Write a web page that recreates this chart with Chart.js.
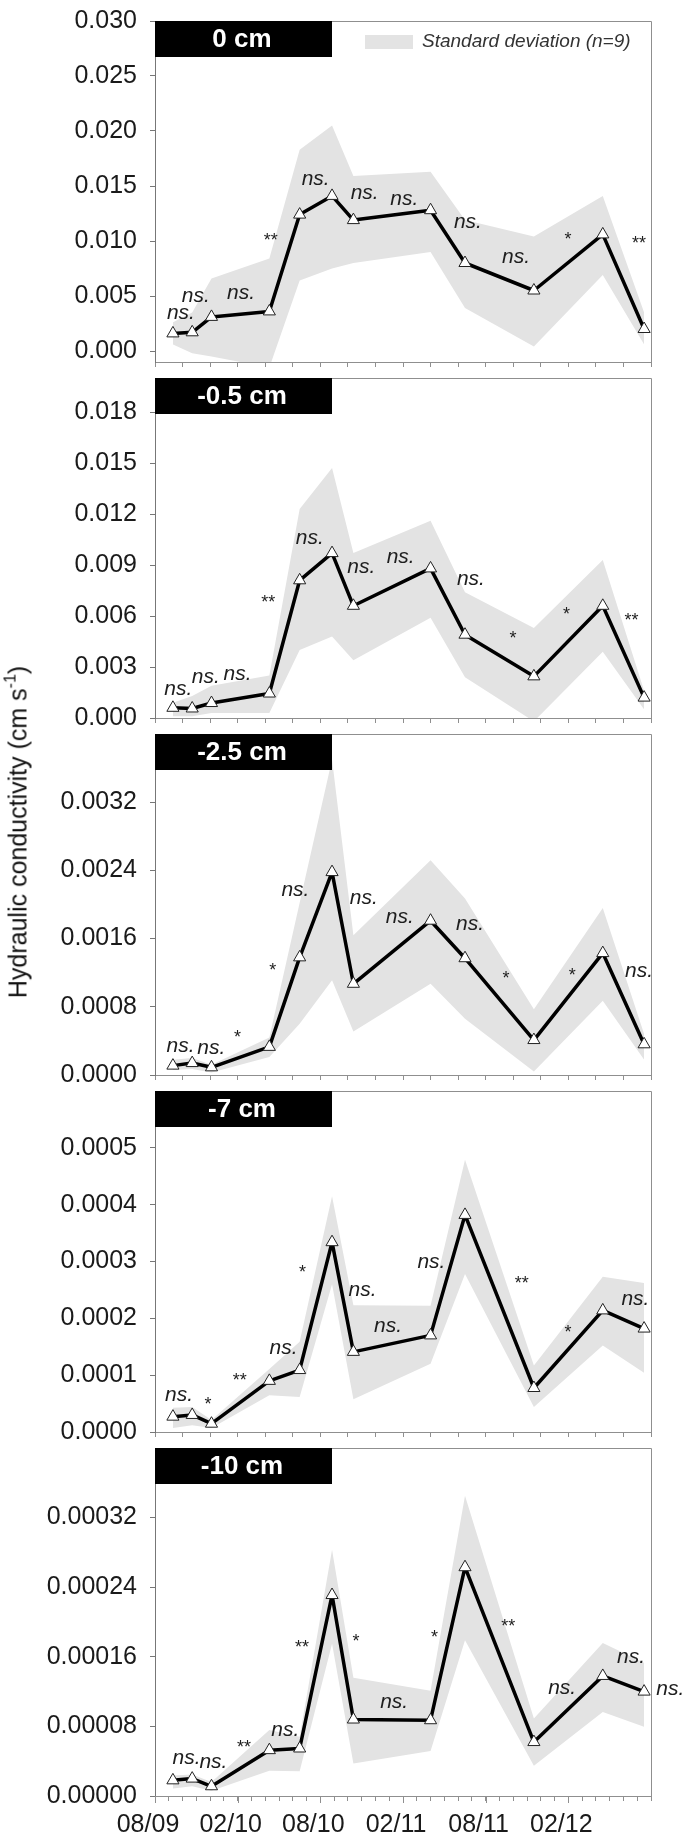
<!DOCTYPE html>
<html>
<head>
<meta charset="utf-8">
<script src="https://cdn.jsdelivr.net/npm/chart.js@4.4.0/dist/chart.umd.min.js"></script>
<style>
html,body{margin:0;padding:0;background:#fff;}
#wrap{position:relative;width:688px;height:1839px;overflow:hidden;background:#fff;}
#wrap canvas{position:absolute;left:0;}
#ytitle{position:absolute;left:18px;top:832px;transform:translate(-50%,-50%) rotate(-90deg);white-space:nowrap;
  font:25px "Liberation Sans",Arial,Helvetica,sans-serif;color:#111;z-index:10;}
#ytitle sup{font-size:16px;vertical-align:11px;line-height:0;}
</style>
</head>
<body>
<div id="wrap"><div id="ytitle">Hydraulic conductivity (cm s<sup>-1</sup>)</div></div>
<script>
// ---------------- DATA ----------------
// sampling dates, in months after 08/2009
const months = [1.3, 2.7, 4.1, 8.3, 10.5, 12.85, 14.4, 20.0, 22.5, 27.5, 32.5, 35.5];

const xTickMonths = [0, 6, 12, 18, 24, 30];
const xLabels = ['08/09', '02/10', '08/10', '02/11', '08/11', '02/12'];

const panelNames = ['0 cm', '-0.5 cm', '-2.5 cm', '-7 cm', '-10 cm'];

// 0 cm
const mean0  = [0.0016, 0.0017, 0.0031, 0.0036, 0.0124, 0.0141, 0.0119, 0.0128, 0.0080, 0.0055, 0.0106, 0.0020];
const upper0 = [0.0026, 0.0035, 0.0066, 0.0084, 0.0183, 0.0205, 0.0159, 0.0163, 0.0119, 0.0104, 0.0141, 0.0035];
const lower0 = [0.0006, -0.0002, -0.0005, -0.0015, 0.0064, 0.0075, 0.0080, 0.0090, 0.0039, 0.0004, 0.0069, 0.0006];
const yLabels0 = ['0.000', '0.005', '0.010', '0.015', '0.020', '0.025', '0.030'];
const ann0 = [[1.88, 0.00348, 'ns.'], [2.96, 0.00501, 'ns.'], [6.24, 0.00522, 'ns.'], [8.41, 0.0100, '**'],
  [11.66, 0.01565, 'ns.'], [15.22, 0.01435, 'ns.'], [18.09, 0.01383, 'ns.'], [22.71, 0.01168, 'ns.'],
  [26.21, 0.00855, 'ns.'], [29.97, 0.01009, '*'], [35.13, 0.00971, '**']];

// -0.5 cm
const mean05  = [0.0006, 0.00056, 0.00088, 0.00144, 0.0081, 0.0097, 0.0066, 0.0088, 0.0049, 0.00245, 0.0066, 0.0012];
const upper05 = [0.0009, 0.0013, 0.0019, 0.0025, 0.0123, 0.0147, 0.0097, 0.0116, 0.0074, 0.0053, 0.0093, 0.0016];
const lower05 = [0.0001, 0.0001, 0.0003, 0.0003, 0.0040, 0.0048, 0.0034, 0.0059, 0.0024, -0.0002, 0.0039, 0.0005];
const yLabels05 = ['0.000', '0.003', '0.006', '0.009', '0.012', '0.015', '0.018'];
const ann05 = [[1.69, 0.00172, 'ns.'], [3.69, 0.00238, 'ns.'], [5.99, 0.0026, 'ns.'], [8.22, 0.00677, '**'],
  [11.24, 0.01055, 'ns.'], [14.97, 0.00889, 'ns.'], [17.83, 0.00945, 'ns.'], [22.93, 0.00814, 'ns.'],
  [25.99, 0.00466, '*'], [29.87, 0.00603, '*'], [34.59, 0.00571, '**']];

// -2.5 cm
const mean25  = [0.00011, 0.00014, 0.00009, 0.00033, 0.00138, 0.00238, 0.00107, 0.00181, 0.00137, 0.00041, 0.00143, 0.00036];
const upper25 = [0.00018, 0.00020, 0.00012, 0.00044, 0.00202, 0.00370, 0.00164, 0.00252, 0.00207, 0.00077, 0.00196, 0.00048];
const lower25 = [0.00006, 0.00007, 0.00003, 0.00021, 0.00060, 0.00111, 0.00051, 0.00107, 0.00066, 0.00004, 0.00087, 0.00018];
const yLabels25 = ['0.0000', '0.0008', '0.0016', '0.0024', '0.0032'];
const ann25 = [[1.85, 0.000337, 'ns.'], [4.08, 0.000314, 'ns.'], [5.99, 0.000438, '*'], [8.54, 0.00122, '*'],
  [10.19, 0.00217, 'ns.'], [15.16, 0.00207, 'ns.'], [17.77, 0.00185, 'ns.'], [22.87, 0.00177, 'ns.'],
  [25.48, 0.00112, '*'], [30.29, 0.00116, '*'], [35.13, 0.00122, 'ns.']];

// -7 cm
const mean7  = [0.000027, 0.00003, 0.0000146, 0.00009, 0.000109, 0.000334, 0.000141, 0.00017, 0.000382, 0.0000774, 0.000214, 0.000182];
const upper7 = [0.0000426, 0.000044, 0.000021, 0.000111, 0.000159, 0.000415, 0.000223, 0.000222, 0.000479, 0.000117, 0.000273, 0.000262];
const lower7 = [0.000007, 0.000012, 0.000007, 0.0000645, 0.0000617, 0.00026, 0.0000578, 0.00012, 0.000278, 0.0000438, 0.000152, 0.000104];
const yLabels7 = ['0.0000', '0.0001', '0.0002', '0.0003', '0.0004', '0.0005'];
const ann7 = [[1.75, 0.0000651, 'ns.'], [3.85, 0.0000466, '*'], [6.15, 0.0000898, '**'], [9.33, 0.000148, 'ns.'],
  [10.7, 0.000279, '*'], [15.06, 0.00025, 'ns.'], [16.91, 0.000187, 'ns.'], [20.06, 0.000298, 'ns.'],
  [26.62, 0.00026, '**'], [29.97, 0.000175, '*'], [34.87, 0.000233, 'ns.']];

// -10 cm
const mean10  = [0.000018, 0.00002, 0.0000112, 0.0000527, 0.0000546, 0.000231, 0.0000879, 0.0000871, 0.000263, 0.000062, 0.000138, 0.00012];
const upper10 = [0.0000236, 0.0000247, 0.000016, 0.0000759, 0.000068, 0.000283, 0.000136, 0.000121, 0.000345, 0.000089, 0.000176, 0.000153];
const lower10 = [0.0000086, 0.0000112, 0.000006, 0.000029, 0.0000284, 0.000175, 0.0000374, 0.0000516, 0.000179, 0.0000348, 0.0000965, 0.0000796];
const yLabels10 = ['0.00000', '0.00008', '0.00016', '0.00024', '0.00032'];
const ann10 = [[2.29, 0.0000434, 'ns.'], [4.24, 0.0000385, 'ns.'], [6.46, 0.0000553, '**'], [9.46, 0.0000759, 'ns.'],
  [10.67, 0.00017, '**'], [14.59, 0.000177, '*'], [17.36, 0.000108, 'ns.'], [20.29, 0.000182, '*'],
  [25.64, 0.000194, '**'], [29.55, 0.000124, 'ns.'], [34.55, 0.00016, 'ns.'], [37.4, 0.000123, 'ns.']];

const yMins = [-0.001, 0, 0, 0, 0];
const yMaxs = [0.030, 0.020, 0.004, 0.0006, 0.0004];

const panels = [
  {mean: mean0, upper: upper0, lower: lower0, yLabels: yLabels0, ann: ann0},
  {mean: mean05, upper: upper05, lower: lower05, yLabels: yLabels05, ann: ann05},
  {mean: mean25, upper: upper25, lower: lower25, yLabels: yLabels25, ann: ann25},
  {mean: mean7, upper: upper7, lower: lower7, yLabels: yLabels7, ann: ann7},
  {mean: mean10, upper: upper10, lower: lower10, yLabels: yLabels10, ann: ann10}
];

// ---------------- LAYOUT ----------------
const FONT = '"Liberation Sans", Arial, Helvetica, sans-serif';
const PLOT_LEFT = 155, PLOT_RIGHT = 651, W = 688, PAGE_H = 1839;
const tops = [13, 370, 726, 1083, 1440];
const bottoms = [370, 726, 1083, 1440, 1796];
const PAD_TOP = 20;
const BAND = '#e3e3e3';
const FRAME = '#8f8f8f';

const wrap = document.getElementById('wrap');
const toPts = arr => arr.map((v, k) => ({x: months[k], y: v}));

panels.forEach((p, i) => {
  const isLast = i === panels.length - 1;
  const plotH = bottoms[i] - tops[i];
  const xAxisH = isLast ? (PAGE_H - bottoms[i]) : 20;
  const canvasH = PAD_TOP + plotH + xAxisH;
  const cv = document.createElement('canvas');
  cv.width = W; cv.height = canvasH;
  cv.style.width = W + 'px'; cv.style.height = canvasH + 'px';
  cv.style.top = (tops[i] - PAD_TOP) + 'px';
  wrap.appendChild(cv);

  const xTicks = [];
  const stepX = isLast ? 1 : 2;
  for (let m = 0; m <= 36; m += stepX) xTicks.push(m);

  const deco = {
    id: 'deco' + i,
    afterDatasetsDraw(chart) {
      const ctx = chart.ctx, xs = chart.scales.x, ys = chart.scales.y;
      ctx.save();
      ctx.fillStyle = '#1e1e1e';
      ctx.textAlign = 'center';
      ctx.textBaseline = 'middle';
      p.ann.forEach(a => {
        ctx.font = a[2] === 'ns.' ? 'italic 21px ' + FONT : '18px ' + FONT;
        ctx.fillText(a[2], xs.getPixelForValue(a[0]), ys.getPixelForValue(a[1]));
      });
      ctx.restore();
    },
    afterDraw(chart) {
      const ctx = chart.ctx, ca = chart.chartArea;
      ctx.save();
      // frame top & right
      ctx.strokeStyle = FRAME; ctx.lineWidth = 1;
      ctx.beginPath();
      ctx.moveTo(ca.left, ca.top + 0.5); ctx.lineTo(ca.right + 0.5, ca.top + 0.5);
      ctx.lineTo(ca.right + 0.5, ca.bottom);
      ctx.stroke();
      // longer major ticks on the bottom axis of the last panel
      if (isLast) {
        const xs = chart.scales.x;
        ctx.strokeStyle = FRAME;
        xTickMonths.forEach(m => {
          const px = Math.round(xs.getPixelForValue(m)) + 0.5;
          ctx.beginPath(); ctx.moveTo(px, ca.bottom); ctx.lineTo(px, ca.bottom + 7); ctx.stroke();
        });
      }
      // panel label box
      ctx.fillStyle = '#000';
      ctx.fillRect(ca.left, ca.top, 177, 36);
      ctx.fillStyle = '#fff';
      ctx.font = 'bold 26px ' + FONT;
      ctx.textAlign = 'center'; ctx.textBaseline = 'middle';
      ctx.fillText(panelNames[i], ca.left + 87, ca.top + 19);
      // legend (first panel only)
      if (i === 0) {
        ctx.fillStyle = BAND;
        ctx.fillRect(ca.left + 210, ca.top + 14, 48, 14);
        ctx.fillStyle = '#333';
        ctx.font = 'italic 19px ' + FONT;
        ctx.textAlign = 'left';
        ctx.fillText('Standard deviation (n=9)', ca.left + 267, ca.top + 21);
      }
      ctx.restore();
    }
  };

  new Chart(cv, {
    type: 'line',
    data: {
      datasets: [
        {data: toPts(p.mean), borderColor: '#000', borderWidth: 3.5, borderJoinStyle: 'round',
         pointStyle: 'triangle', pointRadius: 7, pointBackgroundColor: '#fff', pointBorderColor: '#222',
         pointBorderWidth: 1, fill: false, tension: 0, order: 0},
        {data: toPts(p.upper), borderColor: 'rgba(0,0,0,0)', borderWidth: 0, pointRadius: 0,
         fill: '+1', backgroundColor: BAND, tension: 0, order: 1},
        {data: toPts(p.lower), borderColor: 'rgba(0,0,0,0)', borderWidth: 0, pointRadius: 0,
         fill: false, tension: 0, order: 2}
      ]
    },
    options: {
      responsive: false, animation: false, devicePixelRatio: 1,
      layout: {padding: {top: PAD_TOP, right: W - PLOT_RIGHT, left: 0, bottom: 0}},
      plugins: {legend: {display: false}, tooltip: {enabled: false}},
      events: [],
      scales: {
        x: {
          type: 'linear', min: 0, max: 36, position: 'bottom',
          afterBuildTicks: s => { s.ticks = xTicks.map(v => ({value: v})); },
          afterFit: s => { s.height = xAxisH; },
          grid: {drawOnChartArea: false, drawTicks: true, tickLength: 5, color: FRAME, lineWidth: 1},
          border: {display: true, color: FRAME, width: 1},
          ticks: {
            autoSkip: false, maxRotation: 0, minRotation: 0, padding: 9, labelOffset: -7,
            font: {family: FONT, size: 25}, color: '#1a1a1a',
            callback: v => {
              if (!isLast) return '';
              const k = xTickMonths.indexOf(v);
              return k >= 0 ? xLabels[k] : '';
            }
          }
        },
        y: {
          type: 'linear', min: yMins[i], max: yMaxs[i],
          afterBuildTicks: s => { s.ticks = p.yLabels.map(t => ({value: parseFloat(t)})); },
          afterFit: s => { s.width = PLOT_LEFT; },
          grid: {drawOnChartArea: false, drawTicks: true, tickLength: 5, color: '#777'},
          border: {display: true, color: '#777', width: 1},
          ticks: {padding: 13, font: {family: FONT, size: 25}, color: '#1a1a1a',
                  callback: (v, idx) => p.yLabels[idx]}
        }
      }
    },
    plugins: [deco]
  });
});
</script>
</body>
</html>
